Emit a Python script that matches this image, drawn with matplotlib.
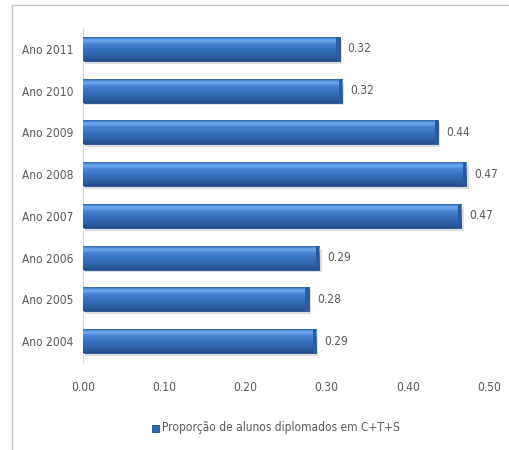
import numpy as np
import matplotlib
matplotlib.use("Agg")
import matplotlib.pyplot as plt
from matplotlib.patches import Rectangle
from matplotlib.colors import LinearSegmentedColormap

categories = ["Ano 2004", "Ano 2005", "Ano 2006", "Ano 2007",
              "Ano 2008", "Ano 2009", "Ano 2010", "Ano 2011"]
values = [0.29, 0.28, 0.29, 0.47, 0.47, 0.44, 0.32, 0.32]
bar_lengths = [0.287, 0.278, 0.291, 0.466, 0.472, 0.437, 0.319, 0.316]
xticks = [0.0, 0.1, 0.2, 0.3, 0.4, 0.5]
legend_label = "Proporção de alunos diplomados em C+T+S"

txt = "#595959"
plt.rcParams["font.family"] = ["DejaVu Sans"]
fs = 8.6

W, H = 510, 450
fig = plt.figure(figsize=(W / 100, H / 100), dpi=100)

# outer frame
fig.patches.append(Rectangle((12 / W, -0.1), 1.2, (1 - 5 / H) + 0.1,
                             transform=fig.transFigure, fill=False,
                             edgecolor="#bfbfbf", lw=0.9))

ax = fig.add_axes([83 / W, 1 - 362 / H, (489 - 83) / W, (362 - 28) / H])
y = np.arange(len(categories))
ax.set_xlim(0, 0.5)
ax.set_ylim(-0.5, len(categories) - 0.5)

bh = 0.57
# soft shadow under each bar
for yi, L in zip(y, bar_lengths):
    ax.add_patch(Rectangle((0.002, yi - bh / 2 - 0.07), L + 0.001, bh,
                           color="#c8c8c8", alpha=0.6, lw=0, zorder=1))

bars = ax.barh(y, bar_lengths, height=bh, color="#3b74c0",
               edgecolor="#24508e", lw=0.6, zorder=2)

grad = LinearSegmentedColormap.from_list(
    "g", [(0.0, "#224d8a"), (0.15, "#2b5d9f"), (0.5, "#3873c1"),
          (0.72, "#4784d2"), (0.84, "#6ca8ec"), (0.92, "#5f9de4"),
          (1.0, "#2f62a8")])
vals = np.linspace(0, 1, 64).reshape(-1, 1)
for b in bars:
    x0, y0 = b.get_x(), b.get_y()
    w, h = b.get_width(), b.get_height()
    im = ax.imshow(vals, cmap=grad, aspect="auto", origin="lower",
                   extent=[x0, x0 + w, y0, y0 + h], zorder=3,
                   interpolation="bilinear")
    im.set_clip_path(b)
    # darker right end cap
    ax.add_patch(Rectangle((x0 + w - 0.004, y0), 0.004, h,
                           color="#2a5a9e", zorder=4, lw=0))

for yi, L, v in zip(y, bar_lengths, values):
    ax.text(L + 0.01, yi, f"{v:.2f}", va="center", ha="left",
            fontsize=fs, color=txt, fontstretch="condensed")

ax.set_yticks(y)
ax.set_yticklabels(categories, fontsize=fs, color=txt, fontstretch="condensed")
ax.set_xticks(xticks)
ax.set_xticklabels([f"{t:.2f}" for t in xticks], fontsize=fs, color=txt,
                   fontstretch="condensed")
ax.tick_params(axis="y", length=0, pad=7)
ax.tick_params(axis="x", length=0, pad=14)
for s in ["top", "right", "bottom"]:
    ax.spines[s].set_visible(False)
ax.spines["left"].set_color("#d9d9d9")
ax.spines["left"].set_linewidth(0.8)
ax.set_xlim(0, 0.5)
ax.set_ylim(-0.5, len(categories) - 0.5)

# legend
lx, ly = 152 / W, 1 - 428 / H
fig.patches.append(Rectangle((lx, ly - 3.5 / H), 7 / W, 7 / H,
                             transform=fig.transFigure,
                             facecolor="#2f64ad", edgecolor="#1f4a86", lw=0.6))
fig.text(lx + 10 / W, ly, legend_label, fontsize=fs, color=txt,
         va="center", ha="left", fontstretch="condensed")

fig.savefig("out.png", dpi=100)
